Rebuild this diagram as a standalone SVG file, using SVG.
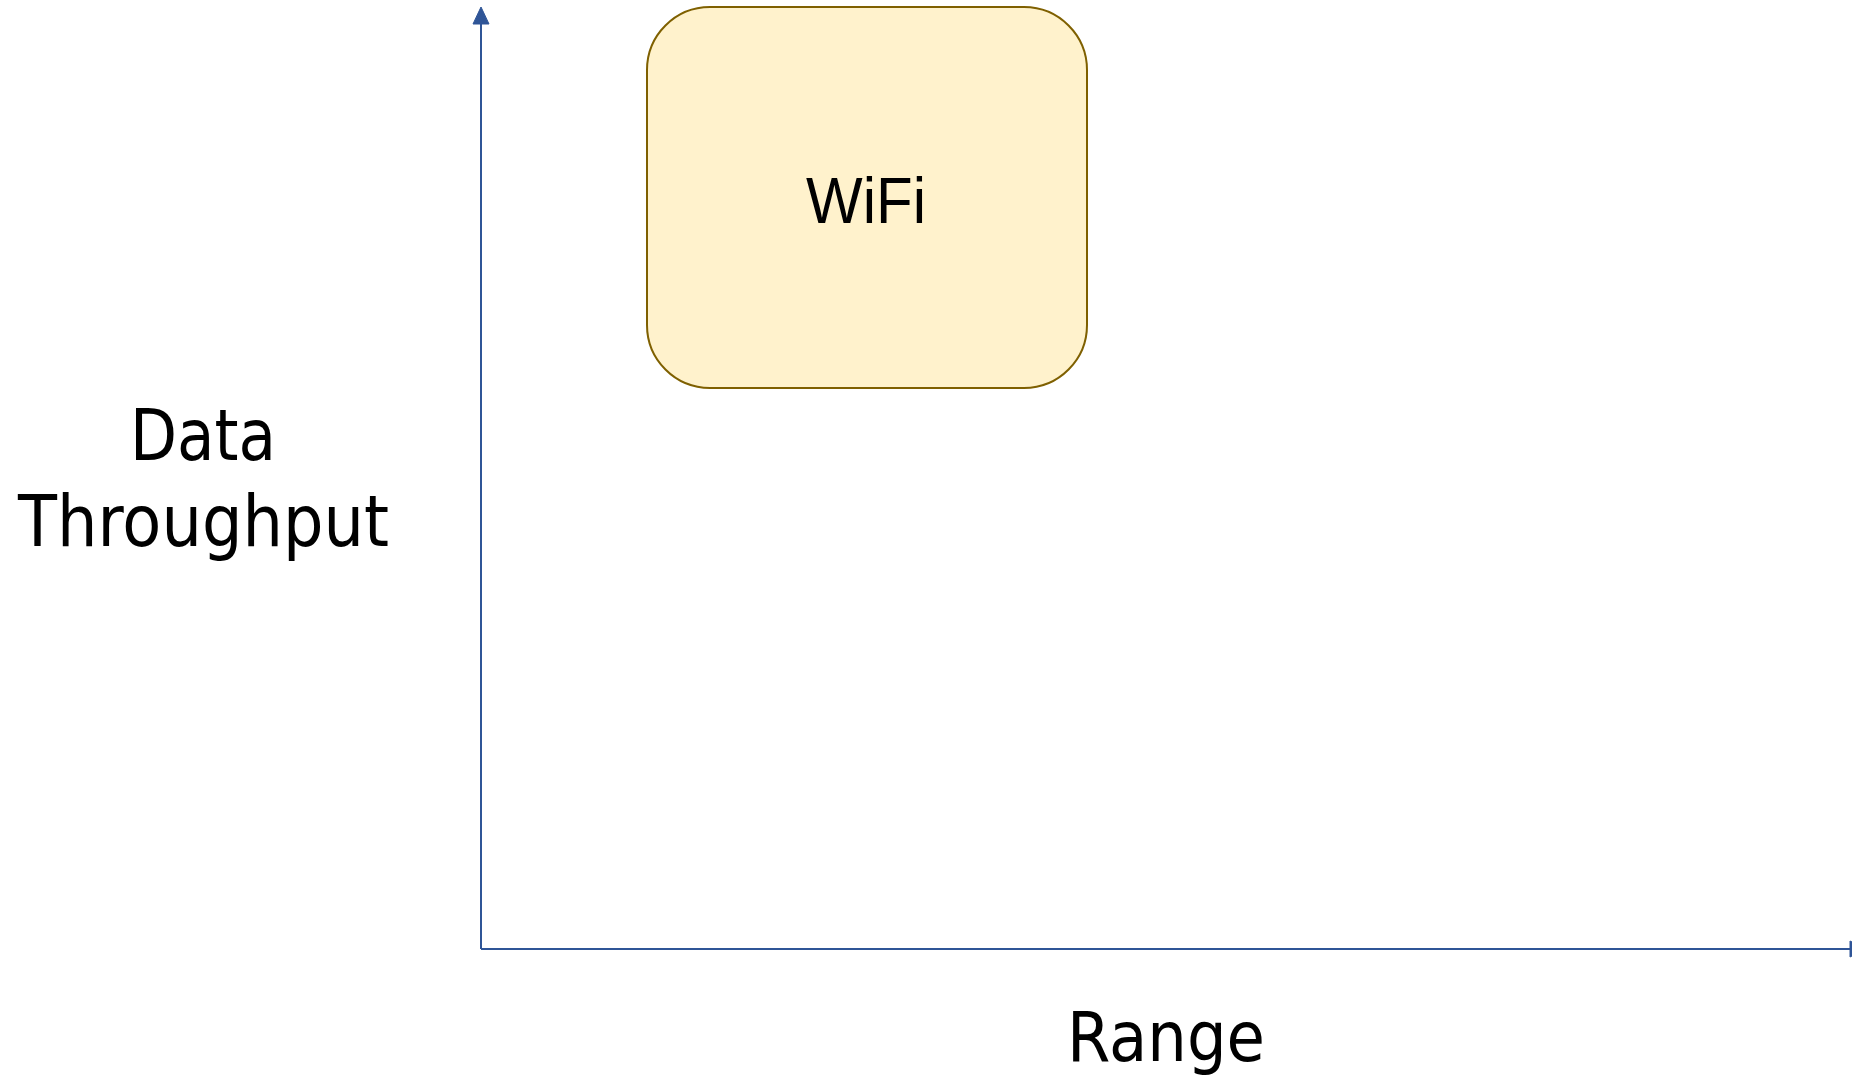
<svg xmlns="http://www.w3.org/2000/svg" width="1852" height="1075" viewBox="0 0 1852 1075">
  <style>
    .axis { stroke: #2F5597; stroke-width: 2; fill: none; }
    .head { fill: #2F5597; stroke: #2F5597; stroke-width: 1; }
    .lbl { font-family: "DejaVu Sans", Verdana, sans-serif; fill: #000000; text-anchor: middle; }
    .node { fill: #FFF2CC; stroke: #7F6000; stroke-width: 2; }
    .nodetext { font-family: "Liberation Sans", Arial, sans-serif; font-size: 64px; fill: #000000; text-anchor: middle; }
  </style>
  <rect width="1852" height="1075" fill="#FFFFFF"/>
  <g id="connectors">
    <path class="axis" d="M481 949 L481 24"/>
    <polygon class="head" points="481,7 473,24 489,24"/>
    <path class="axis" d="M481 949 L1850 949"/>
    <polygon class="head" points="1867,949 1850,941 1850,957"/>
  </g>
  <g id="wifi">
    <rect class="node" x="647" y="7" width="440" height="381" rx="63" ry="63"/>
    <text class="nodetext" x="866" y="223" textLength="120" lengthAdjust="spacingAndGlyphs">WiFi</text>
  </g>
  <g id="y-label">
    <text class="lbl" x="203" y="460" font-size="72" textLength="146" lengthAdjust="spacingAndGlyphs">Data</text>
    <text class="lbl" x="203.5" y="546" font-size="72" textLength="371" lengthAdjust="spacingAndGlyphs">Throughput</text>
  </g>
  <g id="x-label">
    <text class="lbl" x="1166" y="1061" font-size="69" textLength="198" lengthAdjust="spacingAndGlyphs">Range</text>
  </g>
</svg>
